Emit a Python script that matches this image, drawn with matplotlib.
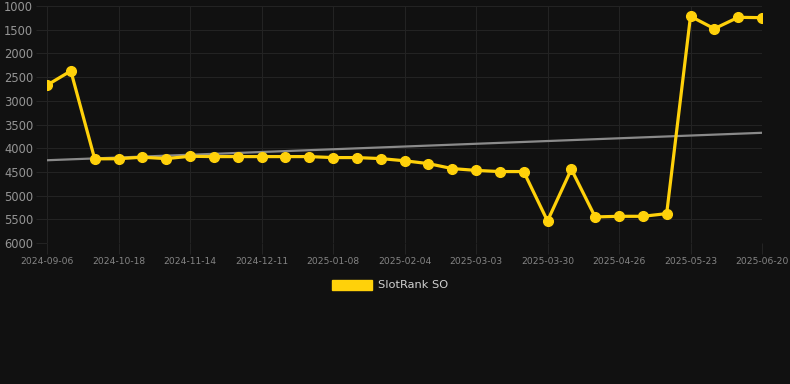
import numpy as np
import matplotlib
matplotlib.use("Agg")
import matplotlib.pyplot as plt

tick_labels = ["2024-09-06", "2024-10-18", "2024-11-14", "2024-12-11", "2025-01-08",
               "2025-02-04", "2025-03-03", "2025-03-30", "2025-04-26", "2025-05-23",
               "2025-06-20"]
ranks = [2670, 2370, 4225, 4222, 4190, 4220, 4170, 4177, 4177, 4177, 4177, 4177,
         4198, 4198, 4219, 4265, 4325, 4430, 4468, 4493, 4493, 5535, 4443, 5450,
         5437, 5437, 5380, 1217, 1479, 1239, 1246]
series_name = "SlotRank SO"

bg = "#111111"
grid_c = "#232323"
gold = "#FFD10A"

fig = plt.figure(figsize=(7.9, 3.84), dpi=100, facecolor=bg)
ax = fig.add_axes([47/790, 1-243/384, (762-47)/790, (243-6)/384], facecolor=bg)

x = np.arange(len(ranks))
coef = np.polyfit(x, ranks, 1)
ax.plot(x[[0, -1]], np.polyval(coef, x[[0, -1]]), color="#8a8a8a", lw=1.6, zorder=2)
ax.plot(x, ranks, color=gold, lw=2.3, marker="o", ms=7.0, mfc=gold, mec=gold,
        zorder=3, label=series_name)

ax.set_xlim(0, len(ranks) - 1)
ax.set_ylim(6000, 1000)
ax.set_yticks(np.arange(1000, 6001, 500))
ax.set_xticks(np.arange(0, len(ranks), 3))
ax.set_xticklabels(tick_labels)
ax.grid(True, color=grid_c, lw=0.8)
ax.set_axisbelow(True)
for s in ax.spines.values():
    s.set_visible(False)
ax.tick_params(axis="y", length=8, color=grid_c, labelcolor="#959595", labelsize=8.3, pad=2)
ax.tick_params(axis="x", length=8, color=grid_c, labelcolor="#858585", labelsize=6.6, pad=2)

leg = fig.legend(handles=[plt.Rectangle((0, 0), 1, 1, color=gold)], labels=[series_name],
                 loc="center", bbox_to_anchor=(390/790, 1-285/384), frameon=False,
                 handlelength=3.5, handleheight=1.0, fontsize=8.2, labelcolor="#d0d0d0",
                 handletextpad=0.5)

fig.savefig("out.png", dpi=100, facecolor=bg)
